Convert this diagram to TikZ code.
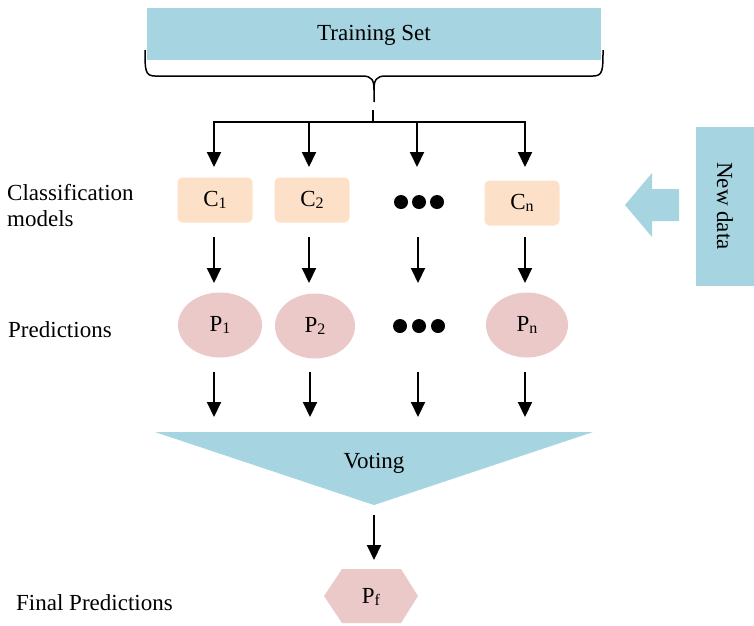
\documentclass[tikz,border=0pt]{standalone}
\usepackage{fontspec}
\setmainfont{Liberation Serif}
\usetikzlibrary{arrows.meta}
\definecolor{lblue}{RGB}{166,212,224}
\definecolor{peach}{RGB}{252,224,200}
\definecolor{rose}{RGB}{236,201,201}
\newcommand{\subs}[1]{\raisebox{-2pt}{\fontsize{16}{16}\selectfont #1}}
\tikzset{
  txt/.style={font=\fontsize{23}{26}\selectfont, inner sep=0pt},
  arr/.style={line width=2pt, -{Triangle[width=14pt,length=15pt]}},
  ln/.style={line width=2pt},
  cbox/.style={txt, fill=peach, rounded corners=5pt, minimum width=75pt, minimum height=45pt},
  pell/.style={txt, fill=rose, ellipse, minimum width=84pt, minimum height=65pt},
  dotc/.style={circle, fill=black, inner sep=0pt, minimum size=14pt},
}
\usetikzlibrary{shapes.geometric}
\begin{document}
\begin{tikzpicture}[x=1pt,y=-1pt]
\useasboundingbox (0,0) rectangle (754,625);
% Training set
\fill[lblue] (147,8) rectangle (601,60);
\node[txt] (ts) at (374,35) {Training Set};
% brace
\draw[line width=1.5pt] (145,50) .. controls (145,70) and (145,76) .. (155,76) -- (362,76)
  .. controls (372,76) and (374,80) .. (374,90) -- (374,102);
\draw[line width=1.5pt] (603,50) .. controls (603,70) and (603,76) .. (593,76) -- (386,76)
  .. controls (376,76) and (374,80) .. (374,90);
% distribution
\coordinate (s0) at (373,110);
\coordinate (s1) at (373,122);
\coordinate (h1) at (214,122);
\coordinate (h2) at (309,122);
\coordinate (h3) at (417,122);
\coordinate (h4) at (525,122);
\draw[ln] (s0) -- (s1);
\draw[ln] ([xshift=-1pt]h1) -- ([xshift=1pt]h4);
% classifier nodes
\node[cbox] (c1) at (215,200) {C\subs{1}};
\node[cbox] (c2) at (312,200) {C\subs{2}};
\node[cbox] (cn) at (522,203) {C\subs{n}};
\node[dotc] (d1) at (401,202) {};
\node[dotc] (d2) at (419,202) {};
\node[dotc] (d3) at (437,202) {};
\coordinate (t1) at (214,167);
\coordinate (t2) at (309,167);
\coordinate (t3) at (417,167);
\coordinate (t4) at (525,167);
\draw[arr] (h1) -- (t1);
\draw[arr] (h2) -- (t2);
\draw[arr] (h3) -- (t3);
\draw[arr] (h4) -- (t4);
% prediction nodes
\node[pell] (p1) at (220,325) {P\subs{1}};
\node[pell, minimum width=80pt] (p2) at (315,326) {P\subs{2}};
\node[pell, minimum width=82pt] (pn) at (527,325) {P\subs{n}};
\node[dotc] (e1) at (400,326) {};
\node[dotc] (e2) at (419,326) {};
\node[dotc] (e3) at (438,326) {};
\coordinate (u1) at (214,237);
\coordinate (u2) at (309,237);
\coordinate (u3) at (418,237);
\coordinate (u4) at (525,237);
\coordinate (v1) at (214,283);
\coordinate (v2) at (309,283);
\coordinate (v3) at (418,283);
\coordinate (v4) at (525,283);
\draw[arr] (u1) -- (v1);
\draw[arr] (u2) -- (v2);
\draw[arr] (u3) -- (v3);
\draw[arr] (u4) -- (v4);
\coordinate (w1) at (214,372);
\coordinate (w2) at (310,372);
\coordinate (w3) at (418,372);
\coordinate (w4) at (525,372);
\coordinate (x1) at (214,417);
\coordinate (x2) at (310,417);
\coordinate (x3) at (418,417);
\coordinate (x4) at (525,417);
\draw[arr] (w1) -- (x1);
\draw[arr] (w2) -- (x2);
\draw[arr] (w3) -- (x3);
\draw[arr] (w4) -- (x4);
% voting
\fill[lblue] (155,432) -- (593,432) -- (374,505) -- cycle;
\node[txt] (vote) at (374,463) {Voting};
\coordinate (y0) at (374,515);
\coordinate (y1) at (374,560);
\draw[arr] (y0) -- (y1);
% final
\fill[rose] (324,596) -- (342,569) -- (401,569) -- (418,596) -- (401,623) -- (342,623) -- cycle;
\node[txt] (pf) at (371,597) {P\subs{f}};
% new data
\node[txt, fill=lblue, minimum width=159pt, minimum height=58pt, rotate=-90] (nd) at (725,206) {New data};
\fill[lblue] (625,205) -- (652,173) -- (652,189) -- (679,189) -- (679,221) -- (652,221) -- (652,237) -- cycle;
% side labels
\node[txt, anchor=north west, align=left] (lab1) at (7,184) {Classification\\models};
\node[txt, anchor=west] (lab2) at (8,330) {Predictions};
\node[txt, anchor=west] (lab3) at (16,603) {Final Predictions};
\end{tikzpicture}
\end{document}
